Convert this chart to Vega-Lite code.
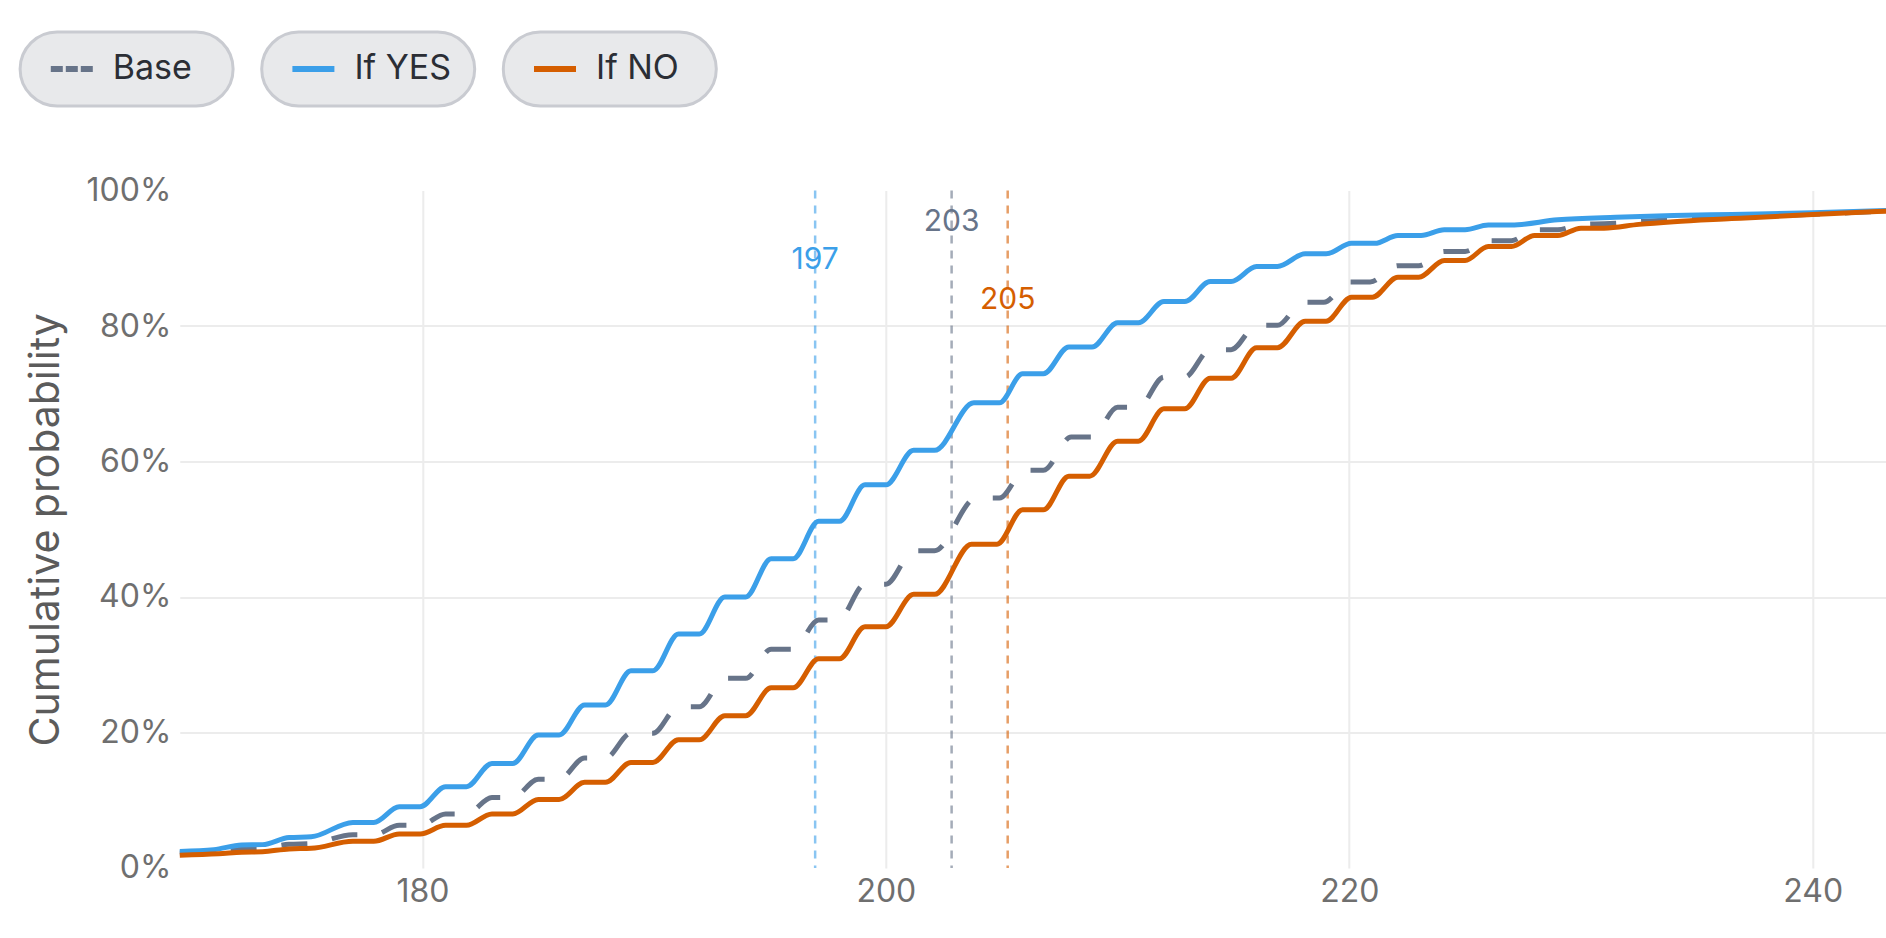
{
  "$schema": "https://vega.github.io/schema/vega-lite/v6.json",
  "padding": {"left": 17.8, "top": 30, "right": 0, "bottom": 4},
  "background": "white",
  "bounds": "flush",
  "spacing": 84.5,
  "config": {"view": {"stroke": null}, "font": "Inter"},
  "datasets": {
    "legend": [{"item": "Base"}, {"item": "If YES"}, {"item": "If NO"}],
    "medians": [
      {"series": "If YES", "median": 196.95, "label": "197", "labelPos": 0.897},
      {"series": "Base", "median": 202.84, "label": "203", "labelPos": 0.954},
      {"series": "If NO", "median": 205.26, "label": "205", "labelPos": 0.839}
    ],
    "cdf": [
      {"series": "If YES", "x": 169.53, "p": 0.0245},
      {"series": "If YES", "x": 171.0, "p": 0.027},
      {"series": "If YES", "x": 172.2, "p": 0.034},
      {"series": "If YES", "x": 173.1, "p": 0.0345},
      {"series": "If YES", "x": 174.25, "p": 0.045},
      {"series": "If YES", "x": 175.2, "p": 0.046},
      {"series": "If YES", "x": 177.0, "p": 0.0673},
      {"series": "If YES", "x": 177.9, "p": 0.0673},
      {"series": "If YES", "x": 179.0, "p": 0.0904},
      {"series": "If YES", "x": 179.9, "p": 0.0904},
      {"series": "If YES", "x": 181.0, "p": 0.12},
      {"series": "If YES", "x": 181.9, "p": 0.12},
      {"series": "If YES", "x": 183.0, "p": 0.1543},
      {"series": "If YES", "x": 183.9, "p": 0.1543},
      {"series": "If YES", "x": 185.0, "p": 0.1962},
      {"series": "If YES", "x": 185.9, "p": 0.1962},
      {"series": "If YES", "x": 187.0, "p": 0.2407},
      {"series": "If YES", "x": 187.9, "p": 0.2407},
      {"series": "If YES", "x": 189.0, "p": 0.2912},
      {"series": "If YES", "x": 189.95, "p": 0.2912},
      {"series": "If YES", "x": 191.05, "p": 0.3454},
      {"series": "If YES", "x": 191.95, "p": 0.3454},
      {"series": "If YES", "x": 193.05, "p": 0.40},
      {"series": "If YES", "x": 193.95, "p": 0.40},
      {"series": "If YES", "x": 195.05, "p": 0.4565},
      {"series": "If YES", "x": 196.0, "p": 0.4565},
      {"series": "If YES", "x": 197.1, "p": 0.5118},
      {"series": "If YES", "x": 198.0, "p": 0.5118},
      {"series": "If YES", "x": 199.1, "p": 0.5655},
      {"series": "If YES", "x": 200.0, "p": 0.5655},
      {"series": "If YES", "x": 201.2, "p": 0.6165},
      {"series": "If YES", "x": 202.1, "p": 0.6165},
      {"series": "If YES", "x": 203.8, "p": 0.6866},
      {"series": "If YES", "x": 204.9, "p": 0.6866},
      {"series": "If YES", "x": 205.9, "p": 0.7294},
      {"series": "If YES", "x": 206.8, "p": 0.7294},
      {"series": "If YES", "x": 207.9, "p": 0.769},
      {"series": "If YES", "x": 208.9, "p": 0.769},
      {"series": "If YES", "x": 210.0, "p": 0.8047},
      {"series": "If YES", "x": 210.9, "p": 0.8047},
      {"series": "If YES", "x": 212.0, "p": 0.836},
      {"series": "If YES", "x": 212.9, "p": 0.836},
      {"series": "If YES", "x": 214.0, "p": 0.8657},
      {"series": "If YES", "x": 214.9, "p": 0.8657},
      {"series": "If YES", "x": 216.0, "p": 0.8878},
      {"series": "If YES", "x": 216.9, "p": 0.8878},
      {"series": "If YES", "x": 218.1, "p": 0.9065},
      {"series": "If YES", "x": 219.0, "p": 0.9065},
      {"series": "If YES", "x": 220.1, "p": 0.922},
      {"series": "If YES", "x": 221.1, "p": 0.922},
      {"series": "If YES", "x": 222.1, "p": 0.9336},
      {"series": "If YES", "x": 223.1, "p": 0.9336},
      {"series": "If YES", "x": 224.1, "p": 0.942},
      {"series": "If YES", "x": 225.0, "p": 0.942},
      {"series": "If YES", "x": 226.0, "p": 0.949},
      {"series": "If YES", "x": 227.0, "p": 0.949},
      {"series": "If YES", "x": 229.0, "p": 0.9567},
      {"series": "If YES", "x": 231.5, "p": 0.9606},
      {"series": "If YES", "x": 234.0, "p": 0.963},
      {"series": "If YES", "x": 236.5, "p": 0.9646},
      {"series": "If YES", "x": 240.0, "p": 0.967},
      {"series": "If YES", "x": 243.2, "p": 0.9705},

      {"series": "If NO", "x": 169.53, "p": 0.019},
      {"series": "If NO", "x": 171.2, "p": 0.021},
      {"series": "If NO", "x": 172.2, "p": 0.0233},
      {"series": "If NO", "x": 173.1, "p": 0.024},
      {"series": "If NO", "x": 174.25, "p": 0.0282},
      {"series": "If NO", "x": 175.2, "p": 0.029},
      {"series": "If NO", "x": 177.0, "p": 0.0394},
      {"series": "If NO", "x": 177.9, "p": 0.0394},
      {"series": "If NO", "x": 179.0, "p": 0.0502},
      {"series": "If NO", "x": 179.9, "p": 0.0502},
      {"series": "If NO", "x": 181.0, "p": 0.063},
      {"series": "If NO", "x": 181.9, "p": 0.063},
      {"series": "If NO", "x": 183.0, "p": 0.0797},
      {"series": "If NO", "x": 183.9, "p": 0.0797},
      {"series": "If NO", "x": 185.0, "p": 0.1012},
      {"series": "If NO", "x": 185.9, "p": 0.1012},
      {"series": "If NO", "x": 187.0, "p": 0.1264},
      {"series": "If NO", "x": 187.9, "p": 0.1264},
      {"series": "If NO", "x": 189.0, "p": 0.1559},
      {"series": "If NO", "x": 189.95, "p": 0.1559},
      {"series": "If NO", "x": 191.05, "p": 0.1892},
      {"series": "If NO", "x": 191.95, "p": 0.1892},
      {"series": "If NO", "x": 193.05, "p": 0.2246},
      {"series": "If NO", "x": 193.95, "p": 0.2246},
      {"series": "If NO", "x": 195.05, "p": 0.2659},
      {"series": "If NO", "x": 196.0, "p": 0.2659},
      {"series": "If NO", "x": 197.1, "p": 0.3089},
      {"series": "If NO", "x": 198.0, "p": 0.3089},
      {"series": "If NO", "x": 199.1, "p": 0.3561},
      {"series": "If NO", "x": 200.0, "p": 0.3561},
      {"series": "If NO", "x": 201.2, "p": 0.4039},
      {"series": "If NO", "x": 202.1, "p": 0.4039},
      {"series": "If NO", "x": 203.7, "p": 0.478},
      {"series": "If NO", "x": 204.8, "p": 0.478},
      {"series": "If NO", "x": 205.9, "p": 0.5287},
      {"series": "If NO", "x": 206.8, "p": 0.5287},
      {"series": "If NO", "x": 207.9, "p": 0.5784},
      {"series": "If NO", "x": 208.8, "p": 0.5784},
      {"series": "If NO", "x": 210.0, "p": 0.63},
      {"series": "If NO", "x": 210.9, "p": 0.63},
      {"series": "If NO", "x": 212.0, "p": 0.6777},
      {"series": "If NO", "x": 212.9, "p": 0.6777},
      {"series": "If NO", "x": 214.0, "p": 0.723},
      {"series": "If NO", "x": 214.9, "p": 0.723},
      {"series": "If NO", "x": 216.0, "p": 0.7678},
      {"series": "If NO", "x": 216.9, "p": 0.7678},
      {"series": "If NO", "x": 218.1, "p": 0.8071},
      {"series": "If NO", "x": 219.0, "p": 0.8071},
      {"series": "If NO", "x": 220.1, "p": 0.8426},
      {"series": "If NO", "x": 221.0, "p": 0.8426},
      {"series": "If NO", "x": 222.1, "p": 0.872},
      {"series": "If NO", "x": 223.0, "p": 0.872},
      {"series": "If NO", "x": 224.1, "p": 0.8967},
      {"series": "If NO", "x": 225.0, "p": 0.8967},
      {"series": "If NO", "x": 226.0, "p": 0.9173},
      {"series": "If NO", "x": 227.0, "p": 0.9173},
      {"series": "If NO", "x": 228.0, "p": 0.9336},
      {"series": "If NO", "x": 229.0, "p": 0.9336},
      {"series": "If NO", "x": 230.0, "p": 0.9444},
      {"series": "If NO", "x": 231.0, "p": 0.9444},
      {"series": "If NO", "x": 232.5, "p": 0.950},
      {"series": "If NO", "x": 234.0, "p": 0.954},
      {"series": "If NO", "x": 236.5, "p": 0.9585},
      {"series": "If NO", "x": 240.0, "p": 0.9646},
      {"series": "If NO", "x": 243.2, "p": 0.9695},

      {"series": "Base", "x": 169.53, "p": 0.022},
      {"series": "Base", "x": 171.2, "p": 0.025},
      {"series": "Base", "x": 172.2, "p": 0.029},
      {"series": "Base", "x": 173.1, "p": 0.030},
      {"series": "Base", "x": 174.25, "p": 0.035},
      {"series": "Base", "x": 175.2, "p": 0.036},
      {"series": "Base", "x": 177.0, "p": 0.049},
      {"series": "Base", "x": 177.9, "p": 0.049},
      {"series": "Base", "x": 179.0, "p": 0.063},
      {"series": "Base", "x": 179.9, "p": 0.063},
      {"series": "Base", "x": 181.0, "p": 0.0797},
      {"series": "Base", "x": 181.9, "p": 0.0797},
      {"series": "Base", "x": 183.0, "p": 0.104},
      {"series": "Base", "x": 183.9, "p": 0.104},
      {"series": "Base", "x": 185.0, "p": 0.131},
      {"series": "Base", "x": 185.9, "p": 0.131},
      {"series": "Base", "x": 187.0, "p": 0.1623},
      {"series": "Base", "x": 187.9, "p": 0.1623},
      {"series": "Base", "x": 189.0, "p": 0.1989},
      {"series": "Base", "x": 189.95, "p": 0.1989},
      {"series": "Base", "x": 191.05, "p": 0.238},
      {"series": "Base", "x": 191.95, "p": 0.238},
      {"series": "Base", "x": 193.05, "p": 0.28},
      {"series": "Base", "x": 193.95, "p": 0.28},
      {"series": "Base", "x": 195.05, "p": 0.323},
      {"series": "Base", "x": 196.0, "p": 0.323},
      {"series": "Base", "x": 197.1, "p": 0.366},
      {"series": "Base", "x": 197.95, "p": 0.366},
      {"series": "Base", "x": 199.1, "p": 0.419},
      {"series": "Base", "x": 200.0, "p": 0.419},
      {"series": "Base", "x": 201.2, "p": 0.4683},
      {"series": "Base", "x": 202.1, "p": 0.4683},
      {"series": "Base", "x": 203.9, "p": 0.546},
      {"series": "Base", "x": 204.9, "p": 0.546},
      {"series": "Base", "x": 206.0, "p": 0.587},
      {"series": "Base", "x": 206.8, "p": 0.587},
      {"series": "Base", "x": 208.0, "p": 0.636},
      {"series": "Base", "x": 208.9, "p": 0.636},
      {"series": "Base", "x": 210.0, "p": 0.68},
      {"series": "Base", "x": 210.9, "p": 0.68},
      {"series": "Base", "x": 212.0, "p": 0.7245},
      {"series": "Base", "x": 212.9, "p": 0.7245},
      {"series": "Base", "x": 214.0, "p": 0.765},
      {"series": "Base", "x": 214.9, "p": 0.765},
      {"series": "Base", "x": 216.0, "p": 0.801},
      {"series": "Base", "x": 216.9, "p": 0.801},
      {"series": "Base", "x": 218.0, "p": 0.835},
      {"series": "Base", "x": 218.9, "p": 0.835},
      {"series": "Base", "x": 220.0, "p": 0.865},
      {"series": "Base", "x": 220.9, "p": 0.865},
      {"series": "Base", "x": 222.1, "p": 0.889},
      {"series": "Base", "x": 223.0, "p": 0.889},
      {"series": "Base", "x": 224.1, "p": 0.91},
      {"series": "Base", "x": 225.0, "p": 0.91},
      {"series": "Base", "x": 226.0, "p": 0.926},
      {"series": "Base", "x": 227.0, "p": 0.926},
      {"series": "Base", "x": 228.0, "p": 0.942},
      {"series": "Base", "x": 229.0, "p": 0.942},
      {"series": "Base", "x": 230.0, "p": 0.950},
      {"series": "Base", "x": 231.0, "p": 0.951},
      {"series": "Base", "x": 234.0, "p": 0.957},
      {"series": "Base", "x": 236.5, "p": 0.960},
      {"series": "Base", "x": 240.0, "p": 0.965},
      {"series": "Base", "x": 243.2, "p": 0.9695}
    ]
  },
  "vconcat": [
    {
      "width": 536,
      "height": 74,
      "data": {"name": "legend"},
      "encoding": {
        "x": {
          "field": "item",
          "type": "nominal",
          "sort": ["Base", "If YES", "If NO"],
          "scale": {"range": [-159.7, 536.5], "paddingInner": 0.1184, "paddingOuter": 0},
          "axis": null
        }
      },
      "layer": [
        {
          "mark": {"type": "rect", "cornerRadius": 37, "fill": "#e8e9eb", "stroke": "#c9cbd1", "strokeWidth": 3}
        },
        {
          "mark": {"type": "point", "shape": "stroke", "size": 1764, "strokeWidth": 6, "filled": false, "opacity": 1, "xOffset": -54.8, "strokeDash": [12, 3]},
          "transform": [{"filter": "datum.item === 'Base'"}],
          "encoding": {
            "color": {"field": "item", "type": "nominal", "scale": {"domain": ["Base", "If YES", "If NO"], "range": ["#677489", "#3b9fe9", "#d55e00"]}, "legend": null}
          }
        },
        {
          "mark": {"type": "point", "shape": "stroke", "size": 1764, "strokeWidth": 6, "filled": false, "opacity": 1, "xOffset": -54.8},
          "transform": [{"filter": "datum.item !== 'Base'"}],
          "encoding": {
            "color": {"field": "item", "type": "nominal", "scale": {"domain": ["Base", "If YES", "If NO"], "range": ["#677489", "#3b9fe9", "#d55e00"]}, "legend": null}
          }
        },
        {
          "mark": {"type": "text", "align": "left", "baseline": "middle", "dx": -13.8, "fontSize": 34, "color": "#2b2e35", "font": "Inter"},
          "encoding": {"text": {"field": "item"}}
        }
      ]
    },
    {
      "width": 1707,
      "height": 677.5,
      "encoding": {
        "x": {
          "type": "quantitative",
          "scale": {"domain": [169.53, 243.2], "nice": false, "zero": false},
          "axis": {
            "values": [180, 200, 220, 240],
            "title": null,
            "ticks": false,
            "domain": false,
            "labelFontSize": 32,
            "labelColor": "#6f6f6f",
            "labelPadding": 9,
            "gridColor": "#ececec",
            "gridWidth": 2,
            "grid": true
          }
        },
        "y": {
          "type": "quantitative",
          "scale": {"domain": [0, 1], "nice": false},
          "axis": {
            "values": [0, 0.2, 0.4, 0.6, 0.8, 1],
            "format": ".0%",
            "title": "Cumulative probability",
            "titleFontSize": 41,
            "titleFontWeight": "normal",
            "titleColor": "#5b5b5b",
            "titlePadding": 18,
            "ticks": false,
            "domain": false,
            "labelFontSize": 32,
            "labelColor": "#6f6f6f",
            "labelPadding": 9,
            "gridColor": "#ececec",
            "gridWidth": 2,
            "gridOpacity": {"condition": {"test": "datum.value === 0 || datum.value === 1", "value": 0}, "value": 1}
          }
        },
        "color": {
          "field": "series",
          "type": "nominal",
          "scale": {"domain": ["Base", "If YES", "If NO"], "range": ["#677489", "#3b9fe9", "#d55e00"]},
          "legend": null
        }
      },
      "layer": [
        {
          "data": {"name": "medians"},
          "mark": {"type": "rule", "strokeWidth": 2.5, "strokeDash": [8, 7], "strokeOpacity": 0.6},
          "encoding": {"x": {"field": "median"}}
        },
        {
          "data": {"name": "medians"},
          "mark": {"type": "text", "fontSize": 30, "align": "center", "baseline": "middle"},
          "encoding": {"x": {"field": "median"}, "y": {"field": "labelPos"}, "text": {"field": "label"}}
        },
        {
          "data": {"name": "cdf"},
          "transform": [{"filter": "datum.series === 'Base'"}],
          "mark": {"type": "line", "interpolate": "monotone", "strokeWidth": 5, "strokeDash": [26, 25]},
          "encoding": {"x": {"field": "x"}, "y": {"field": "p"}}
        },
        {
          "data": {"name": "cdf"},
          "transform": [{"filter": "datum.series === 'If YES'"}],
          "mark": {"type": "line", "interpolate": "monotone", "strokeWidth": 5},
          "encoding": {"x": {"field": "x"}, "y": {"field": "p"}}
        },
        {
          "data": {"name": "cdf"},
          "transform": [{"filter": "datum.series === 'If NO'"}],
          "mark": {"type": "line", "interpolate": "monotone", "strokeWidth": 5},
          "encoding": {"x": {"field": "x"}, "y": {"field": "p"}}
        }
      ]
    }
  ]
}
